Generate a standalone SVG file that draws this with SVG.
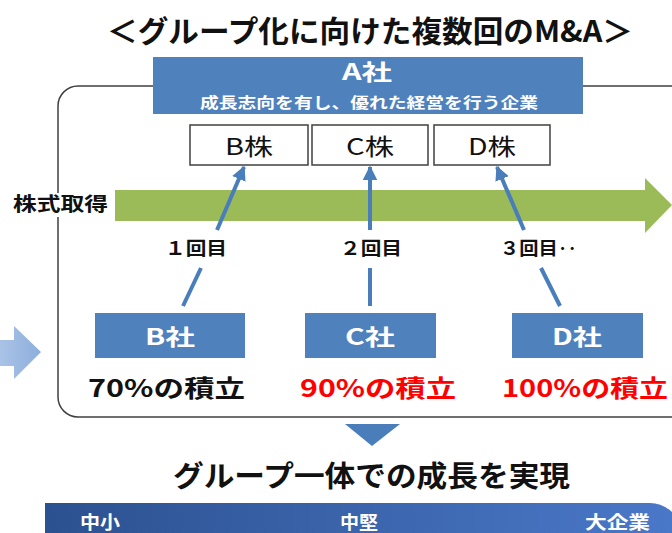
<svg xmlns="http://www.w3.org/2000/svg" width="672" height="533" viewBox="0 0 672 533">
<defs>
<style>
text{font-family:"Noto Sans CJK JP","Noto Sans",sans-serif;}
.b{font-weight:700;}
.w{fill:#ffffff;}
.blue{fill:#4F81BD;}
.conn{stroke:#4A7EBB;stroke-width:4;fill:none;}
.stock{fill:#ffffff;stroke:#404040;stroke-width:1.5;}
</style>
<marker id="ah" viewBox="0 0 10 10" refX="9" refY="5" markerWidth="3.6" markerHeight="3.6" orient="auto" markerUnits="strokeWidth">
<path d="M0,0 L10,5 L0,10 z" fill="#4A7EBB"/>
</marker>
<linearGradient id="bar" x1="0" y1="0" x2="1" y2="0">
<stop offset="0" stop-color="#2C5190"/>
<stop offset="1" stop-color="#4A78C8"/>
</linearGradient>
<linearGradient id="lb" x1="0" y1="0" x2="1" y2="0">
<stop offset="0" stop-color="#A9C3E6"/>
<stop offset="1" stop-color="#8DAEDD"/>
</linearGradient>
</defs>
<rect width="672" height="533" fill="#ffffff"/>

<text class="b" x="107" y="42" font-size="30" textLength="526" lengthAdjust="spacingAndGlyphs" fill="#111">＜グループ化に向けた複数回のM&amp;A＞</text>

<g id="frame">
<rect x="58" y="86" width="632" height="331" rx="20" ry="20" fill="none" stroke="#404040" stroke-width="1.5"/>
</g>

<g id="left-arrow">
<path d="M0,340 L14,340 L14,326 L41,352 L14,379 L14,366 L0,366 z" fill="url(#lb)"/>
</g>

<g id="A">
<rect class="blue" x="153" y="57" width="430" height="57"/>
<text class="b w" x="342" y="80" font-size="22" textLength="50" lengthAdjust="spacingAndGlyphs">A社</text>
<text class="b w" x="200" y="108" font-size="15" textLength="338" lengthAdjust="spacingAndGlyphs">成長志向を有し、優れた経営を行う企業</text>
</g>

<g id="Bstock">
<rect class="stock" x="190" y="125" width="118" height="40"/>
<text x="249" y="155" font-size="23" text-anchor="middle" textLength="48" lengthAdjust="spacingAndGlyphs" fill="#111">B株</text>
</g>
<g id="Cstock">
<rect class="stock" x="312" y="125" width="116" height="40"/>
<text x="370" y="155" font-size="23" text-anchor="middle" textLength="48" lengthAdjust="spacingAndGlyphs" fill="#111">C株</text>
</g>
<g id="Dstock">
<rect class="stock" x="434" y="125" width="116" height="40"/>
<text x="492" y="155" font-size="23" text-anchor="middle" textLength="48" lengthAdjust="spacingAndGlyphs" fill="#111">D株</text>
</g>

<g id="acquire">
<rect x="10" y="193" width="102" height="24" fill="#ffffff"/>
<text class="b" x="13" y="211" font-size="19" textLength="95" lengthAdjust="spacingAndGlyphs" fill="#111">株式取得</text>
<path d="M115,190 L645,190 L645,178 L672,205 L645,233 L645,221 L115,221 z" fill="#9BBB59"/>
</g>

<g id="connectors">
<line class="conn" x1="217" y1="230" x2="244" y2="167" marker-end="url(#ah)"/>
<line class="conn" x1="370" y1="230" x2="370" y2="167" marker-end="url(#ah)"/>
<line class="conn" x1="524" y1="230" x2="497" y2="167" marker-end="url(#ah)"/>
<line class="conn" x1="183" y1="306" x2="201" y2="268"/>
<line class="conn" x1="370" y1="306" x2="370" y2="268"/>
<line class="conn" x1="560" y1="306" x2="541" y2="268"/>
</g>

<g id="labels">
<text class="b" x="165" y="255" font-size="18" textLength="62" lengthAdjust="spacingAndGlyphs" fill="#111">１回目</text>
<text class="b" x="340" y="255" font-size="18" textLength="62" lengthAdjust="spacingAndGlyphs" fill="#111">２回目</text>
<text class="b" x="500" y="255" font-size="18" textLength="77" lengthAdjust="spacingAndGlyphs" fill="#111">３回目‥</text>
</g>

<g id="B">
<rect class="blue" x="95" y="313" width="150" height="45"/>
<text class="b w" x="170" y="345" font-size="22" text-anchor="middle" textLength="50" lengthAdjust="spacingAndGlyphs">B社</text>
<text class="b" x="88" y="397" font-size="24" textLength="157" lengthAdjust="spacingAndGlyphs" fill="#111">70%の積立</text>
</g>
<g id="C">
<rect class="blue" x="305" y="313" width="131" height="45"/>
<text class="b w" x="370" y="345" font-size="22" text-anchor="middle" textLength="50" lengthAdjust="spacingAndGlyphs">C社</text>
<text class="b" x="300" y="397" font-size="24" textLength="156" lengthAdjust="spacingAndGlyphs" fill="#FF0000">90%の積立</text>
</g>
<g id="D">
<rect class="blue" x="512" y="313" width="131" height="45"/>
<text class="b w" x="577" y="345" font-size="22" text-anchor="middle" textLength="50" lengthAdjust="spacingAndGlyphs">D社</text>
<text class="b" x="502" y="397" font-size="24" textLength="166" lengthAdjust="spacingAndGlyphs" fill="#FF0000">100%の積立</text>
</g>

<g id="down">
<path d="M345,424 L400,424 L372,446 z" fill="#4A7EBB"/>
</g>

<text class="b" x="173" y="487" font-size="29" textLength="397" lengthAdjust="spacingAndGlyphs" fill="#111">グループ一体での成長を実現</text>

<g id="bar-scale">
<path d="M45,503 L650,503 Q662,503 672,512 L672,533 L45,533 z" fill="url(#bar)"/>
<text class="b w" x="80" y="529" font-size="18" textLength="40" lengthAdjust="spacingAndGlyphs">中小</text>
<text class="b w" x="340" y="529" font-size="18" textLength="38" lengthAdjust="spacingAndGlyphs">中堅</text>
<text class="b w" x="585" y="529" font-size="18" textLength="65" lengthAdjust="spacingAndGlyphs">大企業</text>
</g>
</svg>
